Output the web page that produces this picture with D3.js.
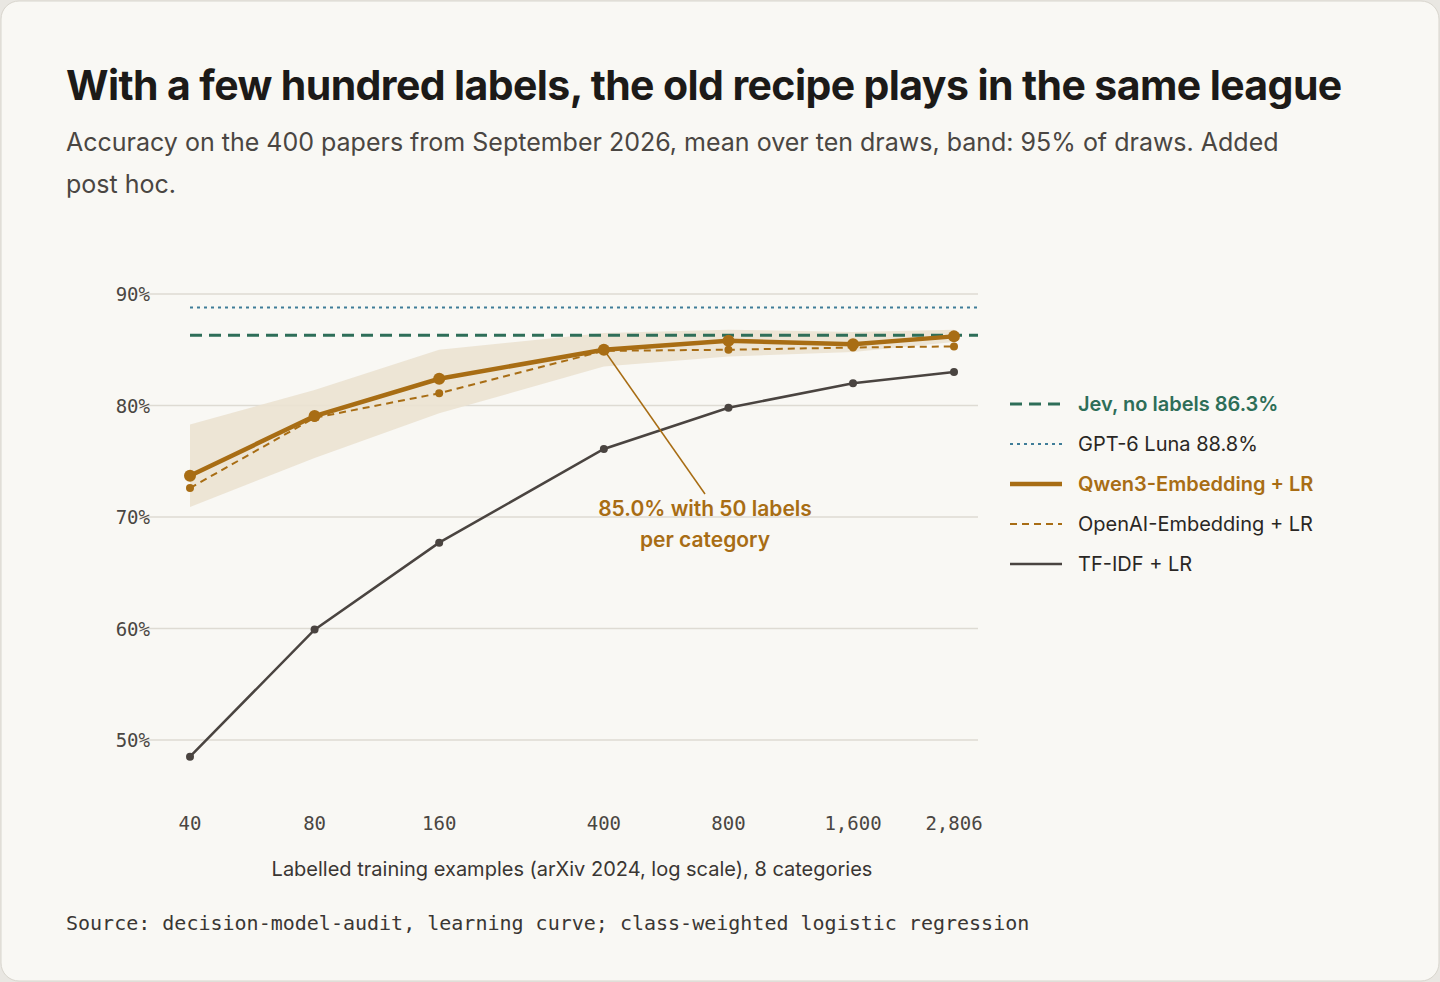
<!DOCTYPE html>
<html><head><meta charset="utf-8">
<script src="https://cdn.jsdelivr.net/npm/d3@7"></script>
<style>
body{margin:0;background:#e9e7e2;}
svg{display:block}
</style></head><body>
<svg id="c" width="1440" height="982"></svg>
<script>
const xs=[40,80,160,400,800,1600,2806];
const xTickLabels=["40","80","160","400","800","1,600","2,806"];
const qwen=[73.7,79.05,82.4,85.0,85.8,85.5,86.2];
const openai=[72.6,78.9,81.1,84.9,85.0,85.2,85.3];
const tfidf=[48.5,59.9,67.7,76.1,79.8,82.0,83.0];
const bandHi=[78.3,81.4,85.0,86.5,86.8,86.6,86.8];
const bandLo=[70.9,75.3,79.3,83.5,84.4,84.8,85.7];
const jev=86.3, gpt=88.8;
const yTicks=[50,60,70,80,90];

const svg=d3.select("#c");
svg.append("rect").attr("x",1).attr("y",1).attr("width",1438).attr("height",980).attr("rx",18)
 .attr("fill","#f9f8f4").attr("stroke","#d8d5cd");
const x=d3.scaleLog().domain([40,2806]).range([190,954]);
const y=d3.scaleLinear().domain([50,90]).range([740,294]);
const gold="#a86d14", green="#2e6e58", blue="#3f7d98", dark="#4a4440";
const sans="Inter, 'Noto Sans', sans-serif", mono="'DejaVu Sans Mono', 'Liberation Mono', monospace";

svg.append("text").attr("x",66).attr("y",100).attr("font-family",sans).attr("font-weight",700).attr("font-size",41)
 .attr("fill","#1c1a18").attr("letter-spacing",-0.6).text("With a few hundred labels, the old recipe plays in the same league");
svg.append("text").attr("x",66).attr("y",151).attr("font-family",sans).attr("font-size",25).attr("fill","#4a4642")
 .text("Accuracy on the 400 papers from September 2026, mean over ten draws, band: 95% of draws. Added");
svg.append("text").attr("x",66).attr("y",193).attr("font-family",sans).attr("font-size",25).attr("fill","#4a4642").text("post hoc.");

// grid
yTicks.forEach(t=>{
 svg.append("line").attr("x1",140).attr("x2",978).attr("y1",y(t)).attr("y2",y(t)).attr("stroke","#dedbd3").attr("stroke-width",1.5);
 svg.append("text").attr("x",150).attr("y",y(t)+7).attr("text-anchor","end").attr("font-family",mono).attr("font-size",19).attr("fill","#4a4642").text(t+"%");
});
xs.forEach((v,i)=>svg.append("text").attr("x",x(v)).attr("y",830).attr("text-anchor","middle").attr("font-family",mono).attr("font-size",19).attr("fill","#4a4642").text(xTickLabels[i]));
svg.append("text").attr("x",572).attr("y",876).attr("text-anchor","middle").attr("font-family",sans).attr("font-size",20).attr("fill","#3a3633")
 .text("Labelled training examples (arXiv 2024, log scale), 8 categories");
svg.append("text").attr("x",66).attr("y",930).attr("font-family",mono).attr("font-size",20).attr("fill","#3a3633")
 .text("Source: decision-model-audit, learning curve; class-weighted logistic regression");

// band
svg.append("path").datum(xs).attr("fill","#ebe2d2").attr("opacity",0.9)
 .attr("d",d3.area().x(d=>x(d)).y0((d,i)=>y(bandLo[i])).y1((d,i)=>y(bandHi[i])));
// reference lines
svg.append("line").attr("x1",190).attr("x2",978).attr("y1",y(gpt)).attr("y2",y(gpt)).attr("stroke",blue).attr("stroke-width",2).attr("stroke-dasharray","3,4");
svg.append("line").attr("x1",190).attr("x2",978).attr("y1",y(jev)).attr("y2",y(jev)).attr("stroke",green).attr("stroke-width",3).attr("stroke-dasharray","12,7");

const line=arr=>d3.line().x((d,i)=>x(xs[i])).y(d=>y(d))(arr);
svg.append("path").attr("d",line(tfidf)).attr("fill","none").attr("stroke",dark).attr("stroke-width",2.5);
svg.selectAll(".pt").data(tfidf).join("circle").attr("cx",(d,i)=>x(xs[i])).attr("cy",d=>y(d)).attr("r",4).attr("fill",dark);
svg.append("path").attr("d",line(openai)).attr("fill","none").attr("stroke",gold).attr("stroke-width",2).attr("stroke-dasharray","7,5");
svg.selectAll(".po").data(openai).join("circle").attr("cx",(d,i)=>x(xs[i])).attr("cy",d=>y(d)).attr("r",4).attr("fill",gold);
svg.append("path").attr("d",line(qwen)).attr("fill","none").attr("stroke",gold).attr("stroke-width",4.5);
svg.selectAll(".pq").data(qwen).join("circle").attr("cx",(d,i)=>x(xs[i])).attr("cy",d=>y(d)).attr("r",6).attr("fill",gold);

// annotation
svg.append("line").attr("x1",x(400)).attr("y1",y(qwen[3])).attr("x2",705).attr("y2",494).attr("stroke",gold).attr("stroke-width",1.5);
svg.append("text").attr("x",705).attr("y",516).attr("text-anchor","middle").attr("font-family",sans).attr("font-weight",600).attr("font-size",21).attr("fill",gold).text("85.0% with 50 labels");
svg.append("text").attr("x",705).attr("y",547).attr("text-anchor","middle").attr("font-family",sans).attr("font-weight",600).attr("font-size",21).attr("fill",gold).text("per category");

// legend
const leg=[
 {t:"Jev, no labels 86.3%",c:green,w:3,da:"12,7",bold:true,tc:green},
 {t:"GPT-6 Luna 88.8%",c:blue,w:2,da:"3,4",bold:false,tc:"#2a2724"},
 {t:"Qwen3-Embedding + LR",c:gold,w:4.5,da:null,bold:true,tc:gold},
 {t:"OpenAI-Embedding + LR",c:gold,w:2,da:"7,5",bold:false,tc:"#2a2724"},
 {t:"TF-IDF + LR",c:dark,w:2.5,da:null,bold:false,tc:"#2a2724"}];
leg.forEach((l,i)=>{
 const yy=404+i*40;
 svg.append("line").attr("x1",1010).attr("x2",1062).attr("y1",yy).attr("y2",yy).attr("stroke",l.c).attr("stroke-width",l.w).attr("stroke-dasharray",l.da);
 svg.append("text").attr("x",1078).attr("y",yy+7).attr("font-family",sans).attr("font-size",20).attr("font-weight",l.bold?600:400).attr("fill",l.tc).text(l.t);
});
</script></body></html>
